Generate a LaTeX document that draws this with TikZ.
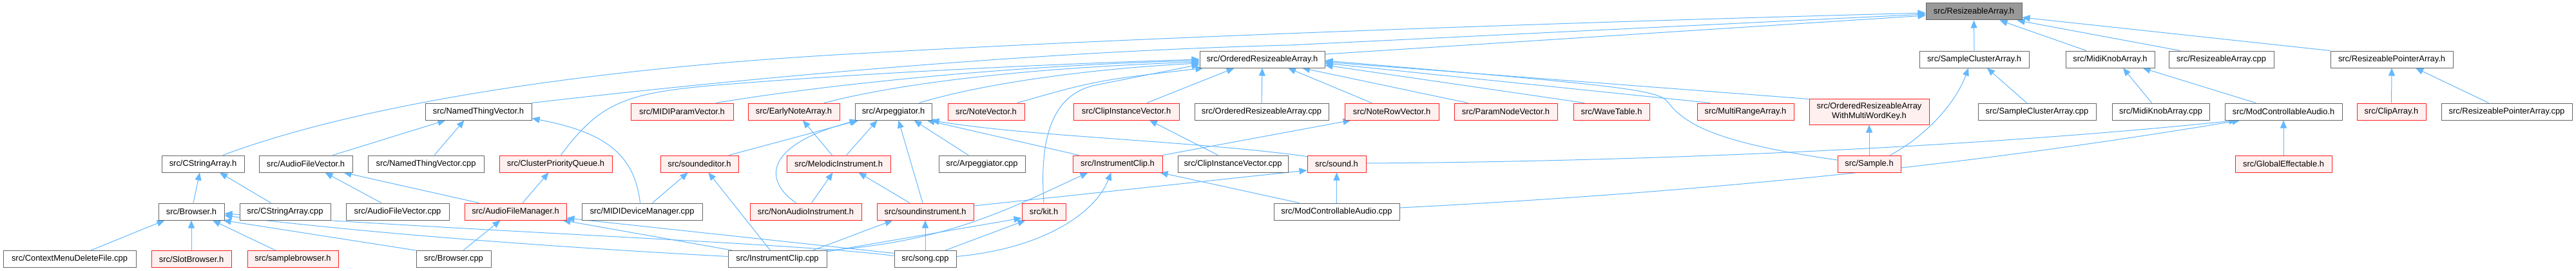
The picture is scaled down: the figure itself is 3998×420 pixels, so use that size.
\documentclass[tikz,border=0pt]{standalone}
\usepackage{fontspec}
\setmainfont{Liberation Sans}
\usetikzlibrary{arrows.meta,calc}
\definecolor{edgec}{HTML}{63B8FF}
\definecolor{boxgray}{HTML}{666666}
\definecolor{rootfill}{HTML}{999999}
\definecolor{redfill}{HTML}{FFF0F0}
\definecolor{redline}{HTML}{FF2020}
\pgfdeclarelayer{canvas}
\pgfdeclarelayer{background}
\pgfsetlayers{canvas,background,main}
\begin{document}
\begin{tikzpicture}[x=1pt,y=-1pt,
  box/.style={draw=boxgray, fill=white, line width=1pt, minimum height=26pt, inner sep=0pt, font=\fontsize{12.9}{15}\selectfont, text=black},
  redbox/.style={box, draw=redline, fill=redfill},
  rootbox/.style={box, fill=rootfill},
  lnk/.style={draw=edgec, line width=1pt, -{Triangle[length=12pt,width=10pt]}}]
\begin{pgfonlayer}{canvas}
\fill[white] (0,0) rectangle (3998,420);
\end{pgfonlayer}
\useasboundingbox (0,0) rectangle (3998,420);
% row 0
\node[rootbox, minimum width=149pt] (R) at (3063.5,18) {src/ResizeableArray.h};
% row 1
\node[box, minimum width=194pt] (ORA) at (1959,92) {src/OrderedResizeableArray.h};
\node[box, minimum width=170pt] (SCAh) at (3064,92) {src/SampleClusterArray.h};
\node[box, minimum width=138pt] (MKAh) at (3275,92) {src/MidiKnobArray.h};
\node[box, minimum width=163pt] (RAcpp) at (3447.5,92) {src/ResizeableArray.cpp};
\node[box, minimum width=190pt] (RPAh) at (3712,92) {src/ResizeablePointerArray.h};
% row 2
\node[box, minimum width=165pt] (NTVh) at (742.5,173) {src/NamedThingVector.h};
\node[redbox, minimum width=159pt] (MPV) at (1058.5,173) {src/MIDIParamVector.h};
\node[redbox, minimum width=142pt] (ENA) at (1232,173) {src/EarlyNoteArray.h};
\node[box, minimum width=119pt] (Arph) at (1386.5,173) {src/Arpeggiator.h};
\node[redbox, minimum width=119pt] (NV) at (1530.5,173) {src/NoteVector.h};
\node[redbox, minimum width=164pt] (CIVh) at (1748,173) {src/ClipInstanceVector.h};
\node[box, minimum width=208pt] (ORAcpp) at (1958,173) {src/OrderedResizeableArray.cpp};
\node[redbox, minimum width=146pt] (NRV) at (2160,173) {src/NoteRowVector.h};
\node[redbox, minimum width=160pt] (PNV) at (2337,173) {src/ParamNodeVector.h};
\node[redbox, minimum width=118pt] (WT) at (2501,173) {src/WaveTable.h};
\node[redbox, minimum width=150pt] (MRA) at (2709,173) {src/MultiRangeArray.h};
\node[redbox, minimum width=186pt, minimum height=40pt, align=center] (ORAW) at (2901,173) {src/OrderedResizeableArray\\WithMultiWordKey.h};
\node[box, minimum width=183pt] (SCAcpp) at (3161.5,173) {src/SampleClusterArray.cpp};
\node[box, minimum width=151pt] (MKAcpp) at (3353.5,173) {src/MidiKnobArray.cpp};
\node[box, minimum width=182pt] (MCAh) at (3544,173) {src/ModControllableAudio.h};
\node[redbox, minimum width=107pt] (CA) at (3711.5,173) {src/ClipArray.h};
\node[box, minimum width=203pt] (RPAcpp) at (3890.5,173) {src/ResizeablePointerArray.cpp};
% row 3
\node[box, minimum width=128pt] (CSAh) at (315,254) {src/CStringArray.h};
\node[box, minimum width=145pt] (AFVh) at (474.5,254) {src/AudioFileVector.h};
\node[box, minimum width=180pt] (NTVcpp) at (661,254) {src/NamedThingVector.cpp};
\node[redbox, minimum width=175pt] (CPQ) at (862.5,254) {src/ClusterPriorityQueue.h};
\node[redbox, minimum width=121pt] (SE) at (1085.5,254) {src/soundeditor.h};
\node[redbox, minimum width=161pt] (MI) at (1301.5,254) {src/MelodicInstrument.h};
\node[box, minimum width=134pt] (Arpcpp) at (1524,254) {src/Arpeggiator.cpp};
\node[redbox, minimum width=139pt] (ICh) at (1734.5,254) {src/InstrumentClip.h};
\node[box, minimum width=171pt] (CIVcpp) at (1913.5,254) {src/ClipInstanceVector.cpp};
\node[redbox, minimum width=91pt] (Sh) at (2074.5,254) {src/sound.h};
\node[redbox, minimum width=98pt] (Sample) at (2901,254) {src/Sample.h};
\node[redbox, minimum width=150pt] (GE) at (3544,254) {src/GlobalEffectable.h};
% row 4
\node[box, minimum width=102pt] (Br) at (297,328) {src/Browser.h};
\node[box, minimum width=141pt] (CSAcpp) at (442.5,328) {src/CStringArray.cpp};
\node[box, minimum width=160pt] (AFVcpp) at (617,328) {src/AudioFileVector.cpp};
\node[redbox, minimum width=158pt] (AFM) at (800,328) {src/AudioFileManager.h};
\node[box, minimum width=187pt] (MDM) at (996.5,328) {src/MIDIDeviceManager.cpp};
\node[redbox, minimum width=173pt] (NAI) at (1250.5,328) {src/NonAudioInstrument.h};
\node[redbox, minimum width=150pt] (SI) at (1436,328) {src/soundinstrument.h};
\node[redbox, minimum width=68pt] (Kit) at (1620,328) {src/kit.h};
\node[box, minimum width=195pt] (MCAcpp) at (2074.5,328) {src/ModControllableAudio.cpp};
% row 5
\node[box, minimum width=206pt] (CMDF) at (108,401.5) {src/ContextMenuDeleteFile.cpp};
\node[redbox, minimum width=124pt] (SB) at (297,401.5) {src/SlotBrowser.h};
\node[redbox, minimum width=141pt] (SBr) at (454.5,401.5) {src/samplebrowser.h};
\node[box, minimum width=116pt] (Brcpp) at (704,401.5) {src/Browser.cpp};
\node[box, minimum width=153pt] (ICcpp) at (1206.5,401.5) {src/InstrumentClip.cpp};
\node[box, minimum width=96pt] (Song) at (1436,401.5) {src/song.cpp};

\begin{pgfonlayer}{background}
% into ResizeableArray.h
\draw[lnk] ($(ORA.east)+(0,-8)$) -- ($(R.west)+(0,6)$);
\draw[lnk] (SCAh.north) -- (R.south);
\draw[lnk] ($(MKAh.north)+(-37,0)$) -- ($(R.south)+(40,0)$);
\draw[lnk] ($(RAcpp.north)+(-64,0)$) -- ($(R.south east)+(-8,0)$);
\draw[lnk] (RPAh.north west) -- ($(R.east)+(0,9)$);
\draw[lnk] ($(CSAh.north)+(31,0)$) .. controls (520,175) and (850,108) .. (1350,82) .. controls (1700,62) and (2300,38) .. ($(R.west)+(0,2)$);
\draw[lnk] (NTVh.north east) .. controls (1150,122) and (1600,80) .. (2000,70) -- ($(R.west)+(0,4)$);
% into OrderedResizeableArray.h
\draw[lnk] ($(MPV.north)+(53,0)$) .. controls (1300,128) and (1600,100) .. ($(ORA.west)+(0,2)$);
\draw[lnk] ($(CPQ.north)+(8,0)$) .. controls (930,160) and (970,145) .. (1100,133) .. controls (1300,116) and (1600,100) .. (ORA.west);
\draw[lnk] ($(ENA.north)+(47,0)$) .. controls (1400,128) and (1600,105) .. ($(ORA.west)+(0,4)$);
\draw[lnk] ($(Arph.north)+(40,0)$) .. controls (1530,128) and (1700,106) .. ($(ORA.west)+(0,6)$);
\draw[lnk] ($(NV.north)+(48,0)$) .. controls (1700,125) .. ($(ORA.south west)+(6,0)$);
\draw[lnk] (Kit.north) .. controls (1612,200) and (1640,145) .. (1700,132) -- ($(ORA.west)+(0,8)$);
\draw[lnk] ($(CIVh.north)+(32,0)$) -- ($(ORA.south west)+(54,0)$);
\draw[lnk] (ORAcpp.north) -- (ORA.south);
\draw[lnk] ($(NRV.north)+(-31,0)$) -- ($(ORA.south)+(40,0)$);
\draw[lnk] ($(PNV.north)+(-59,0)$) -- ($(ORA.south)+(62,0)$);
\draw[lnk] ($(WT.north)+(-42,0)$) -- ($(ORA.east)+(0,9)$);
\draw[lnk] ($(MRA.north)+(-55,0)$) -- ($(ORA.east)+(0,6)$);
\draw[lnk] ($(ORAW.north west)+(0,1)$) -- ($(ORA.east)+(0,4)$);
\draw[lnk] ($(Sample.west)+(0,-6)$) .. controls (2690,225) and (2620,200) .. (2590,160) .. controls (2575,140) and (2545,135) .. ($(ORA.east)+(0,2)$);
% into Arpeggiator.h
\draw[lnk] ($(SE.north)+(46,0)$) -- ($(Arph.south west)+(6,0)$);
\draw[lnk] ($(NAI.north)+(-15,0)$) .. controls (1185,280) and (1185,225) .. ($(Arph.south west)+(4,0)$);
\draw[lnk] ($(MI.north)+(12,0)$) -- ($(Arph.south)+(-25,0)$);
\draw[lnk] ($(MI.north)+(-10,0)$) -- ($(ENA.south)+(14,0)$);
\draw[lnk] ($(SI.north)+(-4,0)$) -- ($(Arph.south)+(8,0)$);
\draw[lnk] ($(Arpcpp.north)+(-21,0)$) -- ($(Arph.south)+(32,0)$);
\draw[lnk] ($(ICh.north)+(-60,0)$) -- ($(Arph.south east)+(-8,0)$);
\draw[lnk] ($(Sh.north west)+(0,2)$) .. controls (1850,218) and (1600,212) .. ($(Arph.south east)+(-1,0)$);
% NamedThingVector.h and CStringArray.h
\draw[lnk] ($(AFVh.north)+(42,0)$) -- ($(NTVh.south west)+(32,0)$);
\draw[lnk] ($(NTVcpp.north)+(13,0)$) -- ($(NTVh.south)+(-22,0)$);
\draw[lnk] ($(MDM.north)+(-3,0)$) .. controls (985,240) and (940,205) .. ($(NTVh.south east)+(0,-3)$);
\draw[lnk] ($(Br.north)+(3,0)$) -- ($(CSAh.south)+(-5,0)$);
\draw[lnk] ($(CSAcpp.north)+(-22,0)$) -- ($(CSAh.south)+(26,0)$);
\draw[lnk] ($(AFVcpp.north)+(-25,0)$) -- ($(AFVh.south)+(30,0)$);
\draw[lnk] ($(AFM.north west)+(23,0)$) -- ($(AFVh.south east)+(-14,0)$);
\draw[lnk] ($(AFM.north)+(11,0)$) -- ($(CPQ.south)+(-11,0)$);
\draw[lnk] ($(MDM.north)+(16,0)$) -- ($(SE.south)+(-18,0)$);
\draw[lnk] ($(ICcpp.north)+(-11,0)$) -- ($(SE.south)+(14,0)$);
\draw[lnk] ($(NAI.north)+(9,0)$) -- ($(MI.south)+(-9,0)$);
\draw[lnk] ($(SI.north)+(-24,0)$) -- ($(MI.south)+(31,0)$);
% InstrumentClip.h etc.
\draw[lnk] ($(MCAcpp.north west)+(40,0)$) -- ($(ICh.south east)+(-4,0)$);
\draw[lnk] (ICcpp.north east) .. controls (1470,375) and (1570,322) .. ($(ICh.south)+(-46,0)$);
\draw[lnk] ($(Song.east)+(0,-4)$) .. controls (1620,385) and (1700,330) .. ($(ICh.south)+(-10,0)$);
\draw[lnk] ($(CIVcpp.north)+(-23,0)$) -- ($(CIVh.south)+(36,0)$);
\draw[lnk] (ICh.north east) -- ($(NRV.south west)+(10,0)$);
\draw[lnk] ($(SI.east)+(0,-9)$) -- ($(Sh.west)+(0,10)$);
\draw[lnk] (MCAcpp.north) -- (Sh.south);
% right part
\draw[lnk] (Sample.north) -- (ORAW.south);
\draw[lnk] ($(Sample.north east)+(-17,0)$) .. controls (2990,210) and (3035,160) .. ($(SCAh.south)+(-9,0)$);
\draw[lnk] ($(SCAcpp.north)+(-16,0)$) -- ($(SCAh.south)+(20,0)$);
\draw[lnk] ($(MKAcpp.north)+(-14,0)$) -- ($(MKAh.south)+(20,0)$);
\draw[lnk] ($(MCAh.north)+(-43,0)$) -- ($(MKAh.south east)+(-19,0)$);
\draw[lnk] ($(Sh.east)+(0,-1)$) .. controls (2600,250) and (3100,225) .. ($(MCAh.south west)+(19,0)$);
\draw[lnk] ($(MCAcpp.east)+(0,-6)$) .. controls (2800,290) and (3200,232) .. ($(MCAh.south west)+(24,0)$);
\draw[lnk] (GE.north) -- (MCAh.south);
\draw[lnk] (CA.north) -- (RPAh.south);
\draw[lnk] ($(RPAcpp.north)+(-28,0)$) -- ($(RPAh.south)+(37,0)$);
% Browser.h
\draw[lnk] ($(CMDF.north)+(33,0)$) -- ($(Br.south west)+(10,0)$);
\draw[lnk] (SB.north) -- (Br.south);
\draw[lnk] ($(SBr.north)+(-27,0)$) -- ($(Br.south)+(33,0)$);
\draw[lnk] (Brcpp.north west) -- ($(Br.south east)+(-2,0)$);
\draw[lnk] ($(ICcpp.west)+(0,-4)$) .. controls (900,385) and (600,365) .. ($(Br.east)+(0,6)$);
\draw[lnk] ($(Song.west)+(0,-5)$) .. controls (1250,378) and (800,362) .. ($(Br.east)+(0,3)$);
% AudioFileManager.h
\draw[lnk] ($(Brcpp.north)+(15,0)$) -- ($(AFM.south west)+(56,0)$);
\draw[lnk] ($(ICcpp.north west)+(7,0)$) -- ($(AFM.south east)+(-6,0)$);
\draw[lnk] ($(Song.west)+(0,-9)$) -- ($(AFM.east)+(0,10)$);
% soundinstrument.h and kit.h
\draw[lnk] ($(ICcpp.north)+(55,0)$) -- ($(SI.south west)+(25,0)$);
\draw[lnk] (Song.north) -- (SI.south);
\draw[lnk] ($(ICcpp.north east)+(0,2)$) -- ($(Kit.west)+(0,10)$);
\draw[lnk] ($(Song.north)+(31,0)$) -- ($(Kit.south west)+(6,0)$);
\end{pgfonlayer}
\end{tikzpicture}
\end{document}
